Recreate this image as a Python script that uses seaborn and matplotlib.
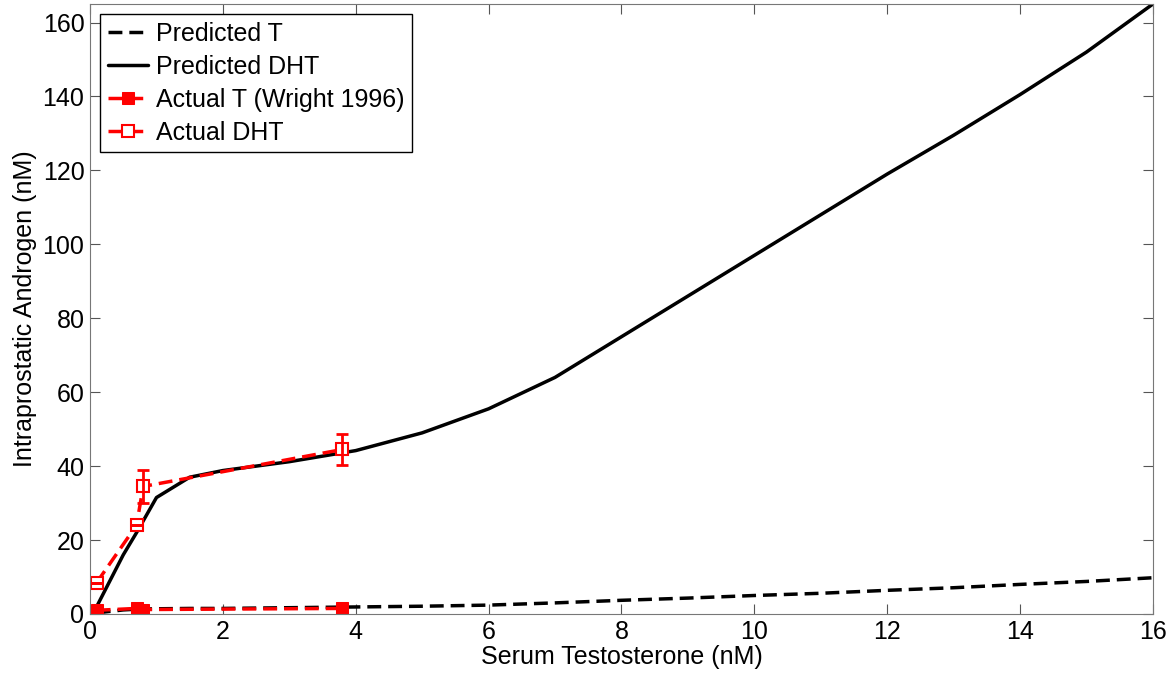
import numpy as np
import pandas as pd
import matplotlib
matplotlib.use('Agg')
import matplotlib.pyplot as plt
import seaborn as sns

# model curves
pred_x = [0.1, 0.5, 0.7, 1.0, 1.5, 2, 3, 4, 5, 6, 7, 8, 9, 10, 11, 12, 13, 14, 15, 16]
pred_dht = [2, 16, 22, 31.5, 37, 38.8, 41.2, 44.2, 49, 55.5, 64, 75, 86, 97, 108, 119, 129.5, 140.5, 152, 165]
pred_t = [0.3, 1.1, 1.3, 1.4, 1.5, 1.5, 1.7, 1.9, 2.1, 2.4, 3.0, 3.7, 4.3, 5.0, 5.6, 6.4, 7.1, 8.0, 8.8, 9.8]

# measured data (Wright 1996)
act_x = [0.1, 0.7, 0.8, 3.8]
act_t = [1.0, 1.5, 1.2, 1.5]
act_dht = [8.5, 24, 34.5, 44.5]
act_dht_err = [0, 0, 4.5, 4.2]

sns.set_style('ticks')
plt.rcParams['font.family'] = ['Liberation Sans', 'DejaVu Sans']
plt.rcParams['text.color'] = 'black'
plt.rcParams['axes.labelcolor'] = 'black'
plt.rcParams['xtick.color'] = 'black'
plt.rcParams['ytick.color'] = 'black'

fig = plt.figure(figsize=(11.74, 6.75), dpi=100)
ax = fig.add_axes([0.0767, 0.0904, 0.9053, 0.9036])

dash = (0, (4, 2))
sns.lineplot(x=pred_x, y=pred_t, ax=ax, color='black', lw=2.5, linestyle=dash, label='Predicted T')
sns.lineplot(x=pred_x, y=pred_dht, ax=ax, color='black', lw=2.5, label='Predicted DHT')
sns.lineplot(x=act_x, y=act_t, ax=ax, color='red', lw=2.5, linestyle=dash,
             marker='s', markersize=9, markerfacecolor='red', markeredgecolor='red',
             label='Actual T (Wright 1996)')
sns.lineplot(x=act_x, y=act_dht, ax=ax, color='red', lw=2.5, linestyle=dash,
             marker='s', markersize=8, markerfacecolor='white', markeredgecolor='red',
             markeredgewidth=1.5, label='Actual DHT')
ax.errorbar(act_x, act_dht, yerr=act_dht_err, fmt='none', ecolor='red', elinewidth=2, capsize=4, capthick=2)

ax.set_xlim(0, 16)
ax.set_ylim(0, 165)
ax.set_xticks(range(0, 17, 2))
ax.set_yticks(range(0, 161, 20))
ax.tick_params(direction='in', top=True, right=True, labelsize=18, length=7, color='#555555', pad=4)
for s in ax.spines.values():
    s.set_color('#777777')
ax.set_xlabel('Serum Testosterone (nM)', fontsize=18, labelpad=1)
ax.set_ylabel('Intraprostatic Androgen (nM)', fontsize=18, labelpad=4)

leg = ax.legend(loc='upper left', fontsize=18, frameon=True, fancybox=False,
                edgecolor='black', borderpad=0.3, labelspacing=0.36, handlelength=1.6,
                handletextpad=0.35, borderaxespad=0.4, framealpha=1)
leg.get_frame().set_linewidth(1)

fig.savefig('out.png', dpi=100)
